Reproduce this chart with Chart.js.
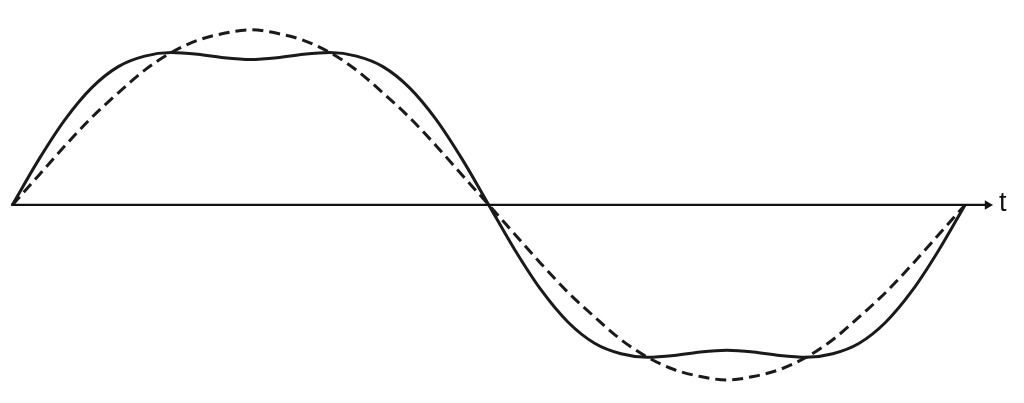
<!DOCTYPE html>
<html>
<head>
<meta charset="utf-8">
<script src="https://cdn.jsdelivr.net/npm/chart.js@4/dist/chart.umd.min.js"></script>
<style>
  html, body { margin: 0; padding: 0; background: #fff; }
  #wrap { width: 1024px; height: 403px; position: relative; }
</style>
</head>
<body>
<div id="wrap"><canvas id="chart"></canvas></div>
<script>
// phase in degrees (one full period)
const angles = [0, 10, 20, 30, 40, 50, 60, 70, 80, 90, 100, 110, 120, 130, 140, 150, 160, 170, 180,
  190, 200, 210, 220, 230, 240, 250, 260, 270, 280, 290, 300, 310, 320, 330, 340, 350, 360];

// dashed curve: the fundamental
const fundamental = [0, 0.17, 0.34, 0.5, 0.64, 0.77, 0.87, 0.94, 0.98, 1.0, 0.98, 0.94, 0.87, 0.77, 0.64, 0.5, 0.34, 0.17, 0,
  -0.17, -0.34, -0.5, -0.64, -0.77, -0.87, -0.94, -0.98, -1.0, -0.98, -0.94, -0.87, -0.77, -0.64, -0.5, -0.34, -0.17, 0];

// solid curve: flattened wave
const flattened = [0, 0.26, 0.49, 0.67, 0.79, 0.85, 0.87, 0.86, 0.84, 0.83, 0.84, 0.86, 0.87, 0.85, 0.79, 0.67, 0.49, 0.26, 0,
  -0.26, -0.49, -0.67, -0.79, -0.85, -0.87, -0.86, -0.84, -0.83, -0.84, -0.86, -0.87, -0.85, -0.79, -0.67, -0.49, -0.26, 0];

// time axis (start and arrow end) and its label
const axisX = [-0.5, 368.5];
const axisLabel = "t";

const toPoints = (ys) => ys.map((y, i) => ({ x: angles[i], y }));

// label "t" next to the arrow
const axisLabelPlugin = {
  id: "axisLabel",
  afterDatasetsDraw(chart) {
    const { ctx, scales } = chart;
    ctx.save();
    ctx.fillStyle = "#111";
    ctx.font = "27px 'Liberation Sans', Arial, sans-serif";
    ctx.textAlign = "left";
    ctx.textBaseline = "middle";
    ctx.fillText(axisLabel, scales.x.getPixelForValue(372.8), scales.y.getPixelForValue(0) - 1);
    ctx.restore();
  }
};

new Chart(document.getElementById("chart"), {
  type: "scatter",
  data: {
    datasets: [
      {
        label: "axis",
        data: axisX.map(x => ({ x, y: 0 })),
        showLine: true,
        borderColor: "#111",
        borderWidth: 2.2,
        pointStyle: "triangle",
        rotation: 90,
        pointRadius: [0, 5.5],
        backgroundColor: "#111",
        pointBorderWidth: 0
      },
      {
        label: "fundamental",
        data: toPoints(fundamental),
        showLine: true,
        borderColor: "#1a1a1a",
        borderWidth: 3,
        borderDash: [11, 6],
        tension: 0.4,
        cubicInterpolationMode: "monotone",
        pointRadius: 0
      },
      {
        label: "flattened",
        data: toPoints(flattened),
        showLine: true,
        borderColor: "#1a1a1a",
        borderWidth: 3,
        cubicInterpolationMode: "monotone",
        pointRadius: 0
      }
    ]
  },
  options: {
    responsive: true,
    maintainAspectRatio: false,
    animation: false,
    layout: { padding: 0 },
    plugins: { legend: { display: false }, tooltip: { enabled: false } },
    scales: {
      x: { type: "linear", display: false, min: -2.62, max: 380.2 },
      y: { type: "linear", display: false, min: -1.1, max: 1.139 }
    }
  },
  plugins: [axisLabelPlugin]
});
</script>
</body>
</html>
